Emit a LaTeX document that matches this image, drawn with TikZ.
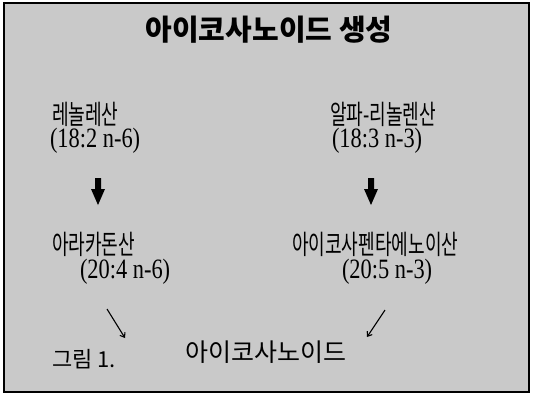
\documentclass[tikz,border=0pt]{standalone}
\usepackage{fontspec}
\usepackage{graphicx}
\setmainfont{Liberation Serif}
\newfontfamily\krfont{Noto Sans CJK KR}
\usetikzlibrary{arrows.meta}
\newcommand\kx[1]{\scalebox{0.67}[1]{#1}}
\newcommand\nx[1]{\scalebox{0.8}[1]{#1}}
\begin{document}
\begin{tikzpicture}[x=1pt,y=-1pt,
  every node/.style={inner sep=0pt,outer sep=0pt},
  klab/.style={anchor=west,font=\fontsize{27}{29}\selectfont\krfont},
  nlab/.style={anchor=west,font=\fontsize{28}{30}\selectfont},
  blockarrow/.style={fill=black},
  thinarrow/.style={line width=1.1pt,-{Straight Barb[length=4pt,width=6pt]}}]
\useasboundingbox (0,0) rectangle (533,399);
\fill[black!21] (4,3) rectangle (529,392);
\draw[line width=1.3pt] (4,3) rectangle (529,392);
% title
\node[font=\fontsize{29}{31}\selectfont\krfont\bfseries] (title) at (269,30) {아이코사노이드 생성};
% left column
\node[klab] (la) at (52,114) {\kx{레놀레산}};
\node[nlab] (lan) at (50,141) {\nx{(18:2 n-6)}};
\node[klab] (aa) at (52,244) {\kx{아라카돈산}};
\node[nlab] (aan) at (80,272) {\nx{(20:4 n-6)}};
% right column
\node[klab] (ala) at (330,114) {\kx{알파-리놀렌산}};
\node[nlab] (alan) at (332,141) {\nx{(18:3 n-3)}};
\node[klab] (epa) at (292,244) {\kx{아이코사펜타에노이산}};
\node[nlab] (epan) at (342,272) {\nx{(20:5 n-3)}};
% block arrows
\fill[blockarrow] (95,178) -- (101,178) -- (101,189) -- (105,189) -- (98,205) -- (91,189) -- (95,189) -- cycle;
\fill[blockarrow] (368,178) -- (374,178) -- (374,189) -- (378,189) -- (371,205) -- (364,189) -- (368,189) -- cycle;
% bottom
\node[anchor=west,font=\fontsize{22}{24}\selectfont\krfont] (fig) at (52,359) {그림 1.};
\node[anchor=west,font=\fontsize{25}{27}\selectfont\krfont] (eico) at (185,352) {아이코사노이드};
\coordinate (l1) at (107,309);
\coordinate (l2) at (125,338);
\coordinate (r1) at (385,310);
\coordinate (r2) at (367,337);
\draw[thinarrow] (l1) -- (l2);
\draw[thinarrow] (r1) -- (r2);
\end{tikzpicture}
\end{document}
